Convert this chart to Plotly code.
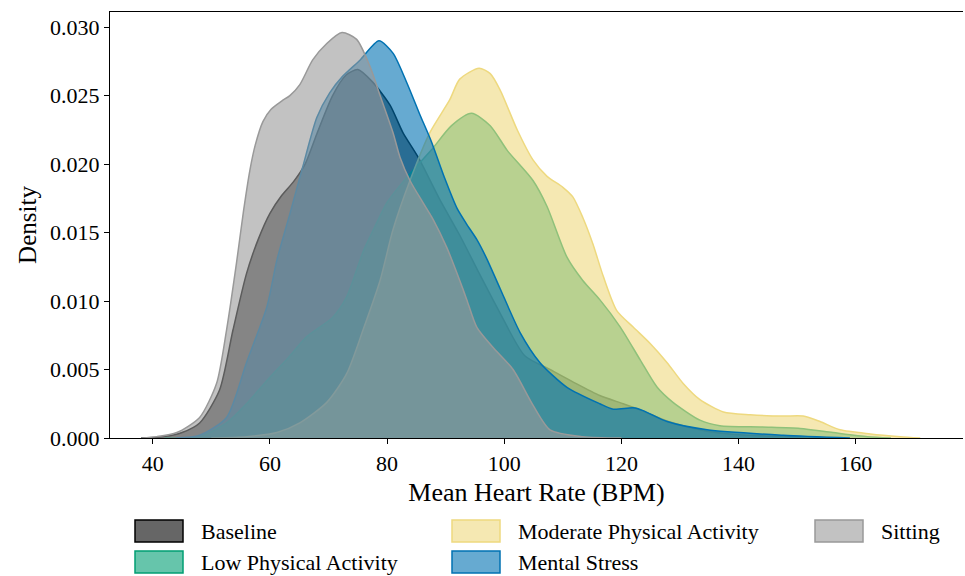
import plotly.graph_objects as go

# Kernel density estimates of mean heart rate (BPM) per condition
baseline_x = [38, 42, 45, 48, 51.4, 53.7, 56, 58, 60, 62, 64, 66, 68, 70.7, 73, 75, 77.5, 80.5,
              82.7, 85.3, 89, 92.4, 95.5, 99.3, 103.5, 107.8, 111.7, 116.3, 120.3, 123.5, 128,
              134.6, 142, 150, 158]
baseline_y = [0, 0.0001, 0.0004, 0.0011, 0.0035, 0.0079, 0.0120, 0.0145, 0.0164, 0.0177, 0.0187,
              0.0200, 0.0222, 0.0250, 0.0265, 0.0269, 0.0260, 0.0243, 0.0223, 0.0205, 0.0174,
              0.0148, 0.0122, 0.0091, 0.0060, 0.0050, 0.0041, 0.0031, 0.0025, 0.0020, 0.0012,
              0.0005, 0.0002, 0.0001, 0]

low_x = [42, 48, 52.6, 56, 59.5, 63, 66.3, 70.7, 73.1, 76, 78, 80, 83.5, 87.5, 91, 94.4, 97.6,
         100.5, 104.9, 107.3, 110.7, 113.4, 116.3, 119.8, 123.2, 126.1, 128.8, 133.4, 136.8,
         144, 150.5, 156.1, 162, 166]
low_y = [0, 0.0001, 0.0011, 0.0025, 0.0042, 0.0058, 0.0074, 0.0088, 0.0103, 0.0137, 0.0155,
         0.0172, 0.0191, 0.0210, 0.0228, 0.0237, 0.0228, 0.0210, 0.0188, 0.0169, 0.0132,
         0.0115, 0.0101, 0.0081, 0.0057, 0.0037, 0.0026, 0.0013, 0.0009, 0.0008, 0.0007,
         0.0004, 0.0001, 0]

moderate_x = [50, 56, 61.2, 65.1, 69.7, 73.1, 75.9, 78.8, 81, 83.9, 87.3, 90.7, 92.4, 95.7,
              97.6, 99.3, 102.2, 104.9, 107.3, 110, 111.7, 113.4, 115.1, 116.9, 119.2, 122,
              124.9, 127.8, 130.5, 133.4, 137.4, 142, 147.6, 151, 153.9, 157.3, 162.5, 167.6, 171]
moderate_y = [0, 0.0001, 0.0004, 0.0011, 0.0026, 0.0047, 0.0079, 0.0115, 0.0152, 0.0188,
              0.0223, 0.0247, 0.0262, 0.0270, 0.0266, 0.0254, 0.0225, 0.0203, 0.0191, 0.0183,
              0.0176, 0.0161, 0.0142, 0.0118, 0.0093, 0.0081, 0.0069, 0.0055, 0.0040, 0.0028,
              0.0019, 0.0017, 0.0016, 0.0016, 0.0012, 0.0006, 0.0003, 0.0001, 0]

stress_x = [44, 48, 52.6, 56, 59.5, 61.2, 63.5, 65.6, 68, 70.2, 72.4, 75.4, 78.6, 81, 83.4,
            85.6, 87.5, 89.8, 91.9, 93.6, 95.3, 97, 99.3, 102.7, 106.1, 110.7, 116.3, 118.6,
            122, 123.7, 127.8, 134.6, 147.6, 159]
stress_y = [0, 0.0002, 0.0015, 0.0055, 0.0096, 0.0130, 0.0165, 0.0198, 0.0234, 0.0252, 0.0264,
            0.0276, 0.0290, 0.0281, 0.0259, 0.0236, 0.0217, 0.0190, 0.0168, 0.0156, 0.0145,
            0.0131, 0.0109, 0.0077, 0.0055, 0.0037, 0.0025, 0.0021, 0.0022, 0.0020, 0.0012,
            0.0006, 0.0002, 0]

sitting_x = [38, 40.7, 44.1, 48, 50.9, 52.6, 54.3, 55.5, 56.6, 57.5, 58.8, 60.2, 62, 63.4,
             65.1, 67.3, 69.7, 72.3, 74.8, 77.1, 78.8, 81, 82.2, 83.9, 86.1, 87.8, 90.2, 92.4,
             93.6, 95.3, 98.1, 101.5, 104.9, 107.8, 113.4, 120]
sitting_y = [0, 0.0001, 0.0004, 0.0015, 0.0040, 0.0079, 0.0128, 0.0166, 0.0196, 0.0214, 0.0231,
             0.0240, 0.0246, 0.0250, 0.0258, 0.0276, 0.0288, 0.0296, 0.0291, 0.0271, 0.0250,
             0.0223, 0.0205, 0.0188, 0.0172, 0.0160, 0.0139, 0.0115, 0.0101, 0.0081, 0.0066,
             0.0050, 0.0024, 0.0006, 0.0001, 0]

conditions = ["Baseline", "Low Physical Activity", "Moderate Physical Activity",
              "Mental Stress", "Sitting"]
curves_x = [baseline_x, low_x, moderate_x, stress_x, sitting_x]
curves_y = [baseline_y, low_y, moderate_y, stress_y, sitting_y]
colors = [(0, 0, 0), (0, 158, 115), (238, 217, 127), (0, 114, 178), (153, 153, 153)]
ALPHA = 0.6

x_ticks = [40, 60, 80, 100, 120, 140, 160]
y_ticks = [0.0, 0.005, 0.010, 0.015, 0.020, 0.025, 0.030]

W, H = 965, 576
ML, MR, MT, MB = 110, 2, 12, 138
PW, PH = W - ML - MR, H - MT - MB
FONT = "Liberation Serif, Times New Roman, serif"


def rgba(c, a):
    return f"rgba({c[0]},{c[1]},{c[2]},{a})"


def px_to_paper(px, py):
    return (px - ML) / PW, (H - MB - py) / PH


fig = go.Figure()
for name, xs, ys, c in zip(conditions, curves_x, curves_y, colors):
    fig.add_trace(go.Scatter(
        x=xs, y=ys, name=name, mode="lines", fill="tozeroy",
        fillcolor=rgba(c, ALPHA),
        line=dict(color=rgba(c, 1), width=1.5, shape="spline", smoothing=0.7),
        showlegend=False, hoverinfo="x+y+name",
    ))

# Legend laid out in three columns below the axes
legend_slots = [(135, 531), (135, 562), (452, 531), (452, 562), (815, 531)]
shapes = []
annotations = []
for (sx, sy), name, c in zip(legend_slots, conditions, colors):
    x0, y0 = px_to_paper(sx, sy + 11)
    x1, y1 = px_to_paper(sx + 48, sy - 11)
    shapes.append(dict(type="rect", xref="paper", yref="paper", x0=x0, y0=y0, x1=x1, y1=y1,
                       fillcolor=rgba(c, ALPHA), line=dict(color=rgba(c, 1), width=1.5)))
    tx, ty = px_to_paper(sx + 64, sy)
    annotations.append(dict(text=name, xref="paper", yref="paper", x=tx, y=ty,
                            xanchor="left", yanchor="middle", showarrow=False,
                            font=dict(family=FONT, size=22, color="black")))

fig.update_layout(
    width=W, height=H,
    margin=dict(l=ML, r=MR, t=MT, b=MB),
    paper_bgcolor="white", plot_bgcolor="white",
    font=dict(family=FONT, size=22, color="black"),
    shapes=shapes, annotations=annotations,
    xaxis=dict(
        range=[32.7, 178.3], tickvals=x_ticks, ticks="outside", ticklen=5, tickwidth=1.3,
        tickcolor="black", showline=True, linecolor="black", linewidth=1.3, mirror=True,
        showgrid=False, zeroline=False, tickfont=dict(size=22),
        title=dict(text="Mean Heart Rate (BPM)", font=dict(size=26), standoff=8),
    ),
    yaxis=dict(
        range=[0, 0.0311], tickvals=y_ticks, tickformat=".3f", ticks="outside", ticklen=5,
        tickwidth=1.3, tickcolor="black", showline=True, linecolor="black", linewidth=1.3,
        showgrid=False, zeroline=False, tickfont=dict(size=22),
        title=dict(text="Density", font=dict(size=25), standoff=6),
    ),
)

fig.write_html("out.html")
